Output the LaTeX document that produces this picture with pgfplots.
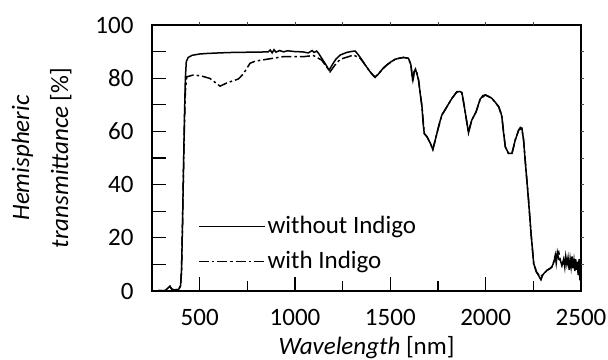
\documentclass[border=0pt]{standalone}
\usepackage{pgfplots}
\pgfplotsset{compat=1.18}
\usepackage{fontspec}
\setmainfont{Carlito}
\begin{document}
\fontsize{25}{30}\selectfont
\begin{tikzpicture}
\begin{axis}[
  name=main,
  scale only axis,
  width=429pt, height=266pt,
  xmin=250, xmax=2500, ymin=0, ymax=100,
  xtick={500,1000,1500,2000,2500},
  extra x ticks={750,1250,1750,2250},
  extra x tick labels={},
  extra x tick style={major tick length=10pt},
  ytick={0,10,...,100},
  yticklabels={0,,20,,40,,60,,80,,100},
  xtick pos=bottom, ytick pos=left,
  tick align=inside,
  major tick length=14pt,
  axis line style={line width=1.4pt},
  every tick/.style={line width=1.2pt, black},
  /pgf/number format/assume math mode=true,
  /pgf/number format/set thousands separator={},
  tick label style={font=\fontsize{25}{30}\selectfont},
  xticklabel style={yshift=-10pt},
  yticklabel style={xshift=-10pt},
  xlabel={\textit{Wavelength} [nm]},
  xlabel style={font=\fontsize{25}{30}\selectfont, yshift=6pt},
  ylabel={\textit{Hemispheric}\\\textit{transmittance} [\%]},
  ylabel style={font=\fontsize{25}{39}\selectfont, align=center, yshift=7pt},
  legend style={draw=none, fill=none, at={(axis description cs:0.107,0.29)}, anchor=north west,
    font=\fontsize{25}{30}\selectfont, row sep=10pt, inner sep=0pt},
  legend cell align=left,
  legend image code/.code={\draw[#1] (0pt,0pt) -- (66pt,0pt);},
]
\addplot[black, line width=1.5pt] coordinates {
(250,0) (320,0.2) (335,1.2) (344,1.8) (352,0.8) (365,0.4) (390,0.6) (400,2) (405,8) (410,25) (415,45) (420,65) (425,80) (430,86.3) (440,87.8) (460,88.6) (500,89.1) (540,89.3) (600,89.5) (680,89.7) (800,89.8)
(860,89.9) (870,90.6) (880,89.5) (890,90.7) (900,89.8) (920,90.4) (940,89.9) (960,90.3) (1000,90.0) (1040,89.9) (1070,89.5) (1090,90.4) (1100,89.7) (1114,90.2) (1125,89.2) (1140,87.5) (1160,85.3) (1179,83.0) (1195,85) (1215,87.2) (1237,88.7) (1272,89.7) (1300,90.1) (1316,90.2) (1333,88.7) (1350,87) (1368,85) (1394,82.4) (1410,81) (1420,80.5) (1433,81.2) (1447,82.4) (1465,84) (1482,85) (1500,86) (1525,87.1) (1550,87.6) (1569,87.8) (1595,87.5) (1608,85) (1615,80.5) (1618,79.3) (1625,82.4) (1632,83.4) (1640,81.5) (1648,79.3) (1657,74) (1666,69.3) (1672,63) (1678,59.2) (1692,58) (1710,55.5) (1723,53.2) (1733,56) (1744,59.2) (1757,63) (1770,66.1) (1797,69.3) (1823,72.4) (1849,74.9) (1865,75) (1875,74.6) (1882,72) (1888,69.3) (1900,64) (1910,59.5) (1918,62) (1927,64.2) (1950,67.4) (1971,72.1) (1985,73.4) (1998,73.7) (2015,73.2) (2033,72.4) (2050,71) (2068,69.3) (2078,67.5) (2085,65.5) (2093,60) (2103,54.2) (2120,51.7) (2138,51.7) (2155,56.7) (2173,60.5) (2182,61.5) (2190,61.1) (2199,56.7) (2206,50) (2213,44.2) (2225,34.1) (2238,21.6) (2252,10.3) (2266,7.2) (2280,5.5) (2290,4.2) (2298,5.8) (2304,6.5) (2322,7.8) (2340,8.5) (2350,9.5) (2358,11) (2365,13.5) (2370,10.5) (2376,14.5) (2383,12) (2392,11.5) (2400,9.5) (2409,12) (2415,9) (2420,13) (2426,10) (2432,12.5) (2438,8) (2443,12) (2448,9) (2453,13) (2458,8.5) (2463,11.5) (2468,7.5) (2472,12) (2477,8) (2481,11) (2485,6) (2490,12) (2494,4) (2497,10) (2500,3)
};
\addlegendentry{without Indigo}
\addplot[black, line width=1.5pt, dash pattern=on 10pt off 3pt on 2.5pt off 3pt] coordinates {
(250,0) (320,0.2) (335,1.2) (344,1.8) (352,0.8) (365,0.4) (390,0.6) (400,2) (405,8) (410,25) (415,45) (420,62) (425,75) (432,80.5) (467,81.2) (511,80.8) (554,79.9) (607,77) (642,78.2) (703,79.7) (729,81.6) (764,85.6) (791,86.4) (851,87.1) (939,88.1) (1044,88.1) (1097,88.5) (1140,86.8) (1184,82.4) (1210,85) (1237,87.1) (1307,88.7) (1342,87.5) (1368,85) (1394,82.4) (1420,80.3) (1447,82.4) (1482,85) (1525,87.1) (1569,87.8) (1595,87.5) (1608,85) (1618,78.5) (1625,82.4) (1636,83) (1648,79.3) (1666,69.3) (1678,59.2) (1692,58) (1710,55.5) (1723,53.2) (1744,59.2) (1770,66.1) (1797,69.3) (1823,72.4) (1849,74.9) (1875,74.6) (1888,69.3) (1910,59.5) (1927,64.2) (1950,67.4) (1971,72.1) (1998,73.7) (2033,72.4) (2068,69.3) (2085,65.5) (2103,54.2) (2120,51.7) (2138,51.7) (2155,56.7) (2173,60.5) (2190,61.1) (2199,56.7) (2213,44.2) (2225,34.1) (2238,21.6) (2252,10.3) (2266,7.2) (2287,5.3) (2304,6.5) (2322,7.8) (2348,9.0) (2365,12.8) (2383,14.7) (2392,11.5) (2409,10.3) (2426,12.2) (2450,10) (2470,9) (2490,8) (2500,4)
};
\addlegendentry{with Indigo}
\end{axis}
\begin{axis}[
  scale only axis,
  width=429pt, height=266pt,
  xmin=250, xmax=2500, ymin=0, ymax=100,
  axis line style={draw=none},
  xtick={500,750,...,2250}, xticklabels={},
  ytick={10,20,...,90}, yticklabels={},
  xtick pos=top, ytick pos=right, tick align=outside,
  major tick length=3pt,
  every tick/.style={line width=0.8pt, black!70},
]
\end{axis}
\pgfresetboundingbox
\path[use as bounding box] ([xshift=-152pt,yshift=-69pt]main.south west) rectangle ([xshift=27pt,yshift=25pt]main.north east);
\end{tikzpicture}
\end{document}
